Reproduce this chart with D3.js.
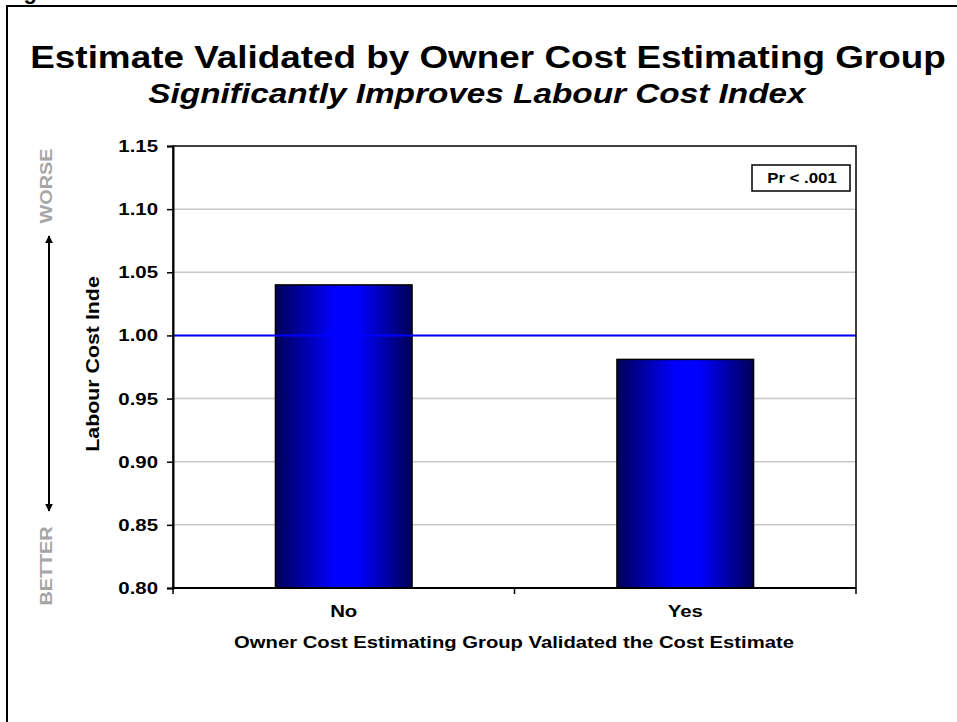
<!DOCTYPE html>
<html>
<head>
<meta charset="utf-8">
<script src="https://cdn.jsdelivr.net/npm/d3@7/dist/d3.min.js"></script>
<style>
  html, body { margin: 0; padding: 0; background: #fff; }
  svg { display: block; }
  text { font-family: Arial, "Liberation Sans", sans-serif; font-weight: bold; }
</style>
</head>
<body>
<svg id="chart" width="957" height="722"></svg>
<script>
// Chart data
const categories = ["No", "Yes"];
const labourCostIndex = [1.040, 0.981];
const yTicks = [0.80, 0.85, 0.90, 0.95, 1.00, 1.05, 1.10, 1.15];
const baselineValue = 1.00;

const titleText = "Estimate Validated by Owner Cost Estimating Group";
const subtitleText = "Significantly Improves Labour Cost Index";
const yAxisTitle = "Labour Cost Inde";
const xAxisTitle = "Owner Cost Estimating Group Validated the Cost Estimate";
const statNote = "Pr < .001";

const svg = d3.select("#chart");
const WIDEN = 1.19; // wide text rendering of the original export

// Stretch a text element along its own baseline
function widen(sel, k = WIDEN) {
  sel.each(function () {
    const w = this.getComputedTextLength();
    d3.select(this).attr("textLength", w * k).attr("lengthAdjust", "spacingAndGlyphs");
  });
  return sel;
}

const plot = { left: 173, right: 856, top: 146, bottom: 588 };

const x = d3.scaleBand().domain(categories).range([plot.left, plot.right]).paddingInner(0).paddingOuter(0);
const y = d3.scaleLinear().domain([0.80, 1.15]).range([plot.bottom, plot.top]);

// Outer frame (runs past the right and bottom edges)
svg.append("rect").attr("x", 7).attr("y", 6).attr("width", 1000).attr("height", 1000)
  .attr("fill", "none").attr("stroke", "#000").attr("stroke-width", 2);

// Figure caption above the frame (mostly above the page edge)
svg.append("text").attr("x", 4).attr("y", -1.5).attr("font-size", 22).text("Figure");

// Titles
widen(svg.append("text").attr("x", 488).attr("y", 68).attr("text-anchor", "middle")
  .attr("font-size", 31.5).text(titleText), 1.17);
widen(svg.append("text").attr("x", 477).attr("y", 103).attr("text-anchor", "middle")
  .attr("font-size", 28).attr("font-style", "italic").text(subtitleText));

// Gradient for the bars
const defs = svg.append("defs");
const grad = defs.append("linearGradient").attr("id", "barGrad")
  .attr("x1", "0%").attr("x2", "100%").attr("y1", "0%").attr("y2", "0%");
[[0, "#000058"], [0.43, "#0000ff"], [0.6, "#0000ff"], [1, "#000058"]].forEach(([o, c]) =>
  grad.append("stop").attr("offset", o).attr("stop-color", c));

// Gridlines
svg.append("g").selectAll("line").data(yTicks.filter(t => t > 0.80 && t < 1.15)).join("line")
  .attr("x1", plot.left).attr("x2", plot.right)
  .attr("y1", d => y(d)).attr("y2", d => y(d))
  .attr("stroke", "#c8c8c8").attr("stroke-width", 1.5);

// Bars
const barW = x.bandwidth() * 0.4;
svg.append("g").selectAll("rect").data(categories).join("rect")
  .attr("x", d => x(d) + (x.bandwidth() - barW) / 2)
  .attr("width", barW)
  .attr("y", (d, i) => y(labourCostIndex[i]))
  .attr("height", (d, i) => y(0.80) - y(labourCostIndex[i]))
  .attr("fill", "url(#barGrad)").attr("stroke", "#000").attr("stroke-width", 1.5);

// Reference line at index 1.00
svg.append("line").attr("x1", plot.left).attr("x2", plot.right)
  .attr("y1", y(baselineValue)).attr("y2", y(baselineValue))
  .attr("stroke", "#0000ff").attr("stroke-width", 2);

// Plot border
svg.append("rect").attr("x", plot.left).attr("y", plot.top)
  .attr("width", plot.right - plot.left).attr("height", plot.bottom - plot.top)
  .attr("fill", "none").attr("stroke", "#000").attr("stroke-width", 1.5);

// Y axis
const yAxis = svg.append("g").attr("transform", `translate(${plot.left},0)`)
  .call(d3.axisLeft(y).tickValues(yTicks).tickFormat(d3.format(".2f")).tickSize(6).tickPadding(9));
yAxis.select(".domain").attr("stroke", "#000").attr("stroke-width", 2);
yAxis.selectAll(".tick line").attr("stroke", "#000").attr("stroke-width", 1.5);
yAxis.selectAll(".tick text").attr("font-size", 17).attr("fill", "#000")
  .attr("font-family", "Arial, 'Liberation Sans', sans-serif").attr("font-weight", "bold");
widen(yAxis.selectAll(".tick text"), 1.2);

// X axis (ticks between categories)
const xAxisG = svg.append("g").attr("transform", `translate(0,${plot.bottom})`);
xAxisG.append("line").attr("x1", plot.left).attr("x2", plot.right)
  .attr("stroke", "#000").attr("stroke-width", 2);
const catEdges = [plot.left, ...categories.map(c => x(c) + x.bandwidth())];
xAxisG.selectAll("line.tk").data(catEdges).join("line").attr("class", "tk")
  .attr("x1", d => d).attr("x2", d => d).attr("y1", 0).attr("y2", 6)
  .attr("stroke", "#000").attr("stroke-width", 1.5);
widen(xAxisG.selectAll("text.cat").data(categories).join("text").attr("class", "cat")
  .attr("x", d => x(d) + x.bandwidth() / 2).attr("y", 29).attr("text-anchor", "middle")
  .attr("font-size", 17).text(d => d), 1.2);

// Axis titles
widen(svg.append("text").attr("x", 514).attr("y", 648).attr("text-anchor", "middle")
  .attr("font-size", 17).text(xAxisTitle));
widen(svg.append("text").attr("transform", "translate(99,364) rotate(-90)")
  .attr("text-anchor", "middle").attr("font-size", 17.5).text(yAxisTitle), 1.22);

// Worse / better direction indicator
widen(svg.append("text").attr("transform", "translate(52,186) rotate(-90)")
  .attr("text-anchor", "middle").attr("font-size", 16.5).attr("fill", "#a6a6a6").text("WORSE"), 1.2);
widen(svg.append("text").attr("transform", "translate(52,566) rotate(-90)")
  .attr("text-anchor", "middle").attr("font-size", 16.5).attr("fill", "#a6a6a6").text("BETTER"), 1.2);
defs.append("marker").attr("id", "arrowHead").attr("viewBox", "0 0 10 10")
  .attr("refX", 9).attr("refY", 5).attr("markerWidth", 4).attr("markerHeight", 4)
  .attr("orient", "auto-start-reverse")
  .append("path").attr("d", "M0,0 L10,5 L0,10 Z").attr("fill", "#000");
svg.append("line").attr("x1", 49).attr("x2", 49).attr("y1", 236).attr("y2", 511)
  .attr("stroke", "#000").attr("stroke-width", 2)
  .attr("marker-start", "url(#arrowHead)").attr("marker-end", "url(#arrowHead)");

// Significance note
svg.append("rect").attr("x", 752).attr("y", 165).attr("width", 98).attr("height", 26)
  .attr("fill", "#fff").attr("stroke", "#000").attr("stroke-width", 1.5);
widen(svg.append("text").attr("x", 802).attr("y", 183).attr("text-anchor", "middle")
  .attr("font-size", 14).text(statNote), 1.2);
</script>
</body>
</html>
